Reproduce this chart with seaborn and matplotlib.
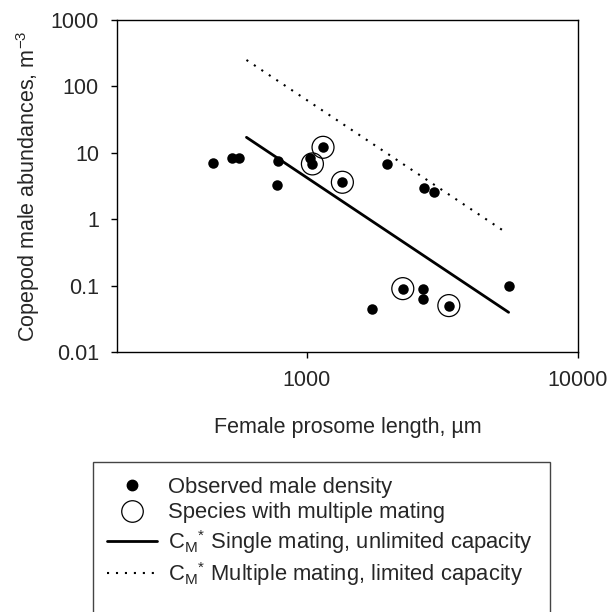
import matplotlib
matplotlib.use("Agg")
import matplotlib.pyplot as plt
import seaborn as sns
import pandas as pd
from matplotlib.lines import Line2D
from matplotlib.patches import Rectangle

# ---- data ----
prosome_length = [451, 530, 561, 786, 777, 1026, 1050, 1149, 1354, 1985,
                  2709, 2941, 1747, 2261, 2687, 2687, 3342, 5579]
male_density = [7.1, 8.3, 8.3, 7.4, 3.3, 8.3, 6.8, 12.1, 3.6, 6.7,
                3.0, 2.6, 0.044, 0.090, 0.090, 0.063, 0.050, 0.10]
multi_length = [1050, 1149, 1354, 2261, 3342]
multi_density = [6.8, 12.1, 3.6, 0.090, 0.050]
single_line_x = [600, 5550]
single_line_y = [17.1, 0.0396]
multiple_line_x = [600, 5260]
multiple_line_y = [250, 0.688]
x_ticks = [1000, 10000]
y_ticks = [0.01, 0.1, 1, 10, 100, 1000]
y_ticklabels = ["0.01", "0.1", "1", "10", "100", "1000"]
legend_labels = ["Observed male density",
                 "Species with multiple mating",
                 r"C$_\mathregular{M}$$^\mathregular{*}$ Single mating, unlimited capacity",
                 r"C$_\mathregular{M}$$^\mathregular{*}$ Multiple mating, limited capacity"]

obs = pd.DataFrame({"x": prosome_length, "y": male_density})
multi = pd.DataFrame({"x": multi_length, "y": multi_density})
single = pd.DataFrame({"x": single_line_x, "y": single_line_y})
multiple = pd.DataFrame({"x": multiple_line_x, "y": multiple_line_y})

sns.set_style("white")
plt.rcParams["font.family"] = ["Liberation Sans", "DejaVu Sans"]
plt.rcParams["mathtext.fontset"] = "custom"
plt.rcParams["mathtext.rm"] = "Liberation Sans"
FS = 15.5
LFS = 15.8

fig = plt.figure(figsize=(6.11, 6.12), dpi=100)
ax = fig.add_axes([117/611, 1-352/612, (578-117)/611, (352-20)/612])

sns.lineplot(data=multiple, x="x", y="y", ax=ax, color="black",
             linewidth=1.5, linestyle=(0, (1, 3.3)), legend=False)
sns.lineplot(data=single, x="x", y="y", ax=ax, color="black",
             linewidth=2.0, legend=False)
sns.scatterplot(data=multi, x="x", y="y", ax=ax, s=250, facecolor="none",
                edgecolor="black", linewidth=0.9, legend=False, zorder=3)
sns.scatterplot(data=obs, x="x", y="y", ax=ax, s=57, color="black",
                edgecolor="black", linewidth=0, legend=False, zorder=4)

ax.set_xscale("log")
ax.set_yscale("log")
ax.set_xlim(200, 10000)
ax.set_ylim(0.01, 1000)
ax.set_xticks(x_ticks)
ax.set_xticklabels([str(t) for t in x_ticks])
ax.set_yticks(y_ticks)
ax.set_yticklabels(y_ticklabels)
ax.minorticks_off()
ax.tick_params(axis="both", which="major", direction="out", length=4,
               width=1, color="black", labelsize=FS, pad=9,
               bottom=True, left=True)
for sp in ax.spines.values():
    sp.set_color("black")
    sp.set_linewidth(1.0)

ax.set_xlabel(r"Female prosome length, µm", fontsize=FS)
ax.set_ylabel(r"Copepod male abundances, m$^\mathregular{-3}$", fontsize=FS)
ax.xaxis.set_label_coords(0.5, -0.197)
ax.yaxis.set_label_coords(-0.162, 0.5)

# legend
handles = [
    Line2D([], [], linestyle="none", marker="o", markersize=7.5,
           markerfacecolor="black", markeredgecolor="black"),
    Line2D([], [], linestyle="none", marker="o", markersize=15.5,
           markerfacecolor="none", markeredgecolor="black", markeredgewidth=0.9),
    Line2D([], [], color="black", linewidth=2.0),
    Line2D([], [], color="black", linewidth=1.5, linestyle=(0, (1, 3.3))),
]
fig.legend(handles, legend_labels, loc="upper left",
           bbox_to_anchor=(107/611, 1-477/612), frameon=False,
           fontsize=LFS, handlelength=2.28, handletextpad=0.52,
           labelspacing=0.2, borderpad=0, borderaxespad=0)
fig.patches.append(Rectangle((93/611, -0.02), (550-93)/611, 0.02 + (612-462)/612,
                             transform=fig.transFigure, fill=False,
                             edgecolor="#444444", linewidth=1.0))

fig.savefig("out.png", dpi=100)
